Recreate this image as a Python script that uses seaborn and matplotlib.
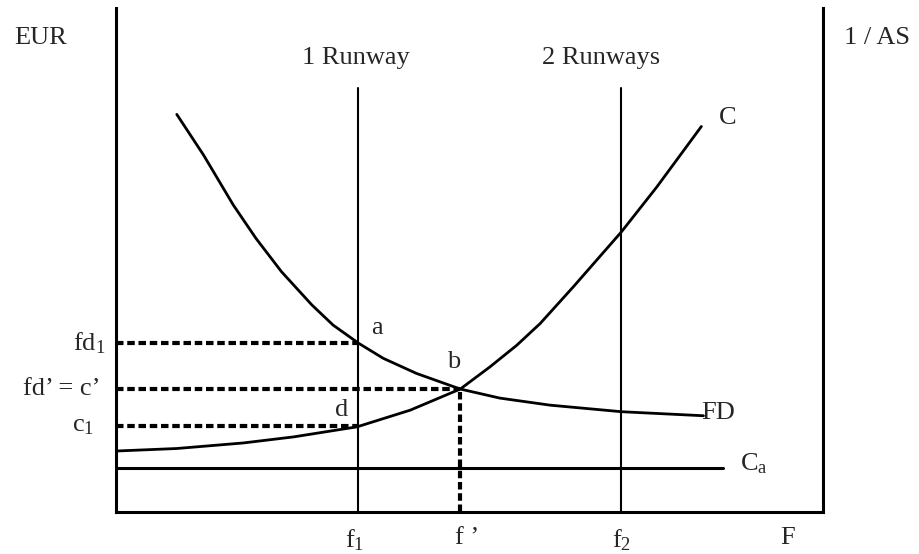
import matplotlib
matplotlib.use("Agg")
import matplotlib.pyplot as plt
import seaborn as sns
import pandas as pd

# curve readings (x = flights F, y = EUR)
fd_x = [0.86, 1.24, 1.38, 1.66, 1.98, 2.34, 2.77, 3.07, 3.43, 3.78, 4.25, 4.87, 5.43, 6.14, 7.15, 8.31]
fd_y = [7.89, 7.08, 6.75, 6.09, 5.43, 4.77, 4.11, 3.71, 3.35, 3.05, 2.75, 2.44, 2.26, 2.12, 1.99, 1.91]
c_x = [0.00, 0.86, 1.80, 2.51, 3.41, 4.16, 4.87, 5.29, 5.67, 6.00, 6.47, 7.15, 7.65, 8.28]
c_y = [1.21, 1.26, 1.37, 1.49, 1.69, 2.02, 2.44, 2.88, 3.31, 3.74, 4.47, 5.56, 6.45, 7.65]

f1, f_eq, f2 = 3.42, 4.87, 7.15
fd1, fd_eq, c1 = 3.35, 2.44, 1.70
ca_level, ca_end = 0.87, 8.59
runway_top = 8.41

x_ticks = [f1 - 0.04, f_eq + 0.1, f2, 9.5]
x_labels = ["f$_1$", "f \u2019", "f$_2$", "F"]
y_labels = ["fd$_1$", "fd\u2019 = c\u2019", "c$_1$"]
y_levels = [fd1, fd_eq, c1]
y_label_left = [-0.61, -1.31, -0.62]

sns.set_style("white")
plt.rcParams["font.family"] = ["Liberation Serif", "DejaVu Serif"]
plt.rcParams["mathtext.fontset"] = "custom"
plt.rcParams["mathtext.rm"] = "Liberation Serif"
plt.rcParams["mathtext.it"] = "Liberation Serif"
plt.rcParams["mathtext.default"] = "rm"

FS = 19

df = pd.concat([
    pd.DataFrame({"F": fd_x, "EUR": fd_y, "curve": "FD"}),
    pd.DataFrame({"F": c_x, "EUR": c_y, "curve": "C"}),
])

fig = plt.figure(figsize=(9.19, 5.54), dpi=100)
ax = fig.add_axes([0.1262, 0.0758, 0.7693, 0.9097])

sns.lineplot(data=df, x="F", y="EUR", hue="curve", units="curve", estimator=None,
             sort=False, palette={"FD": "black", "C": "black"}, linewidth=2.0,
             legend=False, ax=ax)

# runway capacity lines
for xv in [f1, f2]:
    ax.plot([xv, xv], [0, runway_top], color="black", lw=1.5)

# Ca line
ax.plot([0, ca_end], [ca_level, ca_level], color="black", lw=2.2)

# dashed guides
dash = dict(color="black", lw=3, dashes=(1.8, 0.9))
ax.plot([0, f1], [fd1, fd1], **dash)
ax.plot([0, f_eq], [fd_eq, fd_eq], **dash)
ax.plot([0, f1], [c1, c1], **dash)
ax.plot([f_eq, f_eq], [0, fd_eq], **dash)

ax.set_xlim(0, 10)
ax.set_ylim(0, 10)
ax.set_xlabel("")
ax.set_ylabel("")
ax.set_xticks(x_ticks)
ax.set_xticklabels(x_labels, fontsize=FS)
ax.set_yticks([])
ax.tick_params(axis="x", length=0, pad=11)

for lab, lev, xl in zip(y_labels, y_levels, y_label_left):
    ax.text(xl, lev, lab, fontsize=FS, ha="left", va="center", clip_on=False)

ax.spines["top"].set_visible(False)
for s in ["left", "right", "bottom"]:
    ax.spines[s].set_color("black")
    ax.spines[s].set_linewidth(2.2)

txt = dict(fontsize=FS, ha="center", va="center", clip_on=False)
ax.text(-1.07, 9.41, "EUR", **txt)
ax.text(10.76, 9.41, "1 / AS", **txt)
ax.text(3.39, 9.0, "1 Runway", **txt)
ax.text(6.86, 9.0, "2 Runways", **txt)
ax.text(8.65, 7.81, "C", **txt)
ax.text(8.51, 1.97, "FD", **txt)
ax.text(8.83, 0.95, "C$_\\mathrm{a}$", fontsize=FS, ha="left", va="center", clip_on=False)
ax.text(3.69, 3.66, "a", **txt)
ax.text(4.77, 2.98, "b", **txt)
ax.text(3.19, 2.02, "d", **txt)

fig.savefig("out.png", dpi=100)
